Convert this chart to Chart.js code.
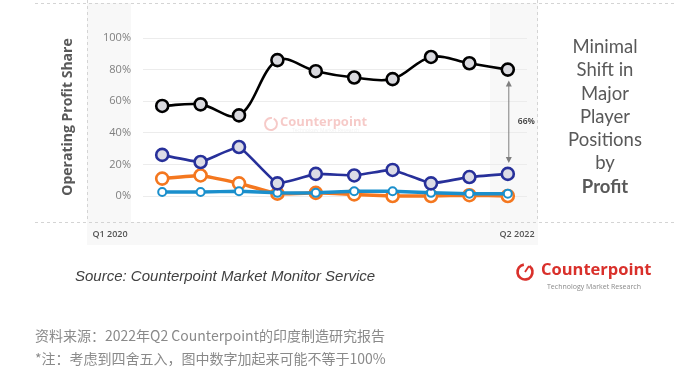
<!DOCTYPE html>
<html lang="zh">
<head>
<meta charset="utf-8">
<script src="https://cdn.jsdelivr.net/npm/chart.js"></script>
<style>
  html, body { margin: 0; padding: 0; background: #fff; }
  #wrap { position: relative; width: 693px; height: 378px; overflow: hidden; }
  #chart { position: absolute; left: 0; top: 0; }
  .txt { position: absolute; white-space: nowrap; }
  #side { left: 545px; top: 35px; width: 120px; text-align: center; font-family: Lato, "Open Sans", sans-serif; font-size: 18.5px; line-height: 23.3px; color: #595959; }
  #source { left: 75px; top: 267px; font-family: "Liberation Sans", Arial, sans-serif; font-style: italic; font-size: 15px; color: #404040; }
  .cn { left: 35px; font-family: "Noto Sans CJK SC", sans-serif; font-size: 14px; color: #8a8a8a; }
</style>
</head>
<body>
<div id="wrap">
  <canvas id="chart" width="693" height="378"></canvas>
  <div class="txt" id="side">Minimal<br>Shift in<br>Major<br>Player<br>Positions<br>by<br><b>Profit</b></div>
  <div class="txt" id="source">Source: Counterpoint Market Monitor Service</div>
  <div class="txt cn" style="top:325px">资料来源：2022年Q2 Counterpoint的印度制造研究报告</div>
  <div class="txt cn" style="top:348px">*注：考虑到四舍五入，图中数字加起来可能不等于100%</div>
</div>
<script>
// quarters Q1 2020 .. Q2 2022
const quarters = ['Q1 2020', 'Q2 2020', 'Q3 2020', 'Q4 2020', 'Q1 2021', 'Q2 2021', 'Q3 2021', 'Q4 2021', 'Q1 2022', 'Q2 2022'];
const edgeLabels = ['Q1 2020', 'Q2 2022'];
const yTicks = [0, 20, 40, 60, 80, 100];
const leader = [57, 58, 51, 86, 79, 75, 74, 88, 84, 80];
const second = [26, 21.5, 31, 8, 14, 13, 16.5, 8, 12, 14];
const cyanSeries = [2.5, 2.5, 3, 2, 2, 3, 3, 2, 1.5, 1.5];
const orangeSeries = [11, 13, 8, 1.5, 2, 1, 0, 0, 0.5, 0];
const gapLabel = '66%';

const extras = {
  id: 'extras',
  beforeDraw(chart) {
    const c = chart.ctx;
    c.save();
    // faint panel tint
    c.fillStyle = '#f8f8f8';
    c.fillRect(87, 3, 44, 219);
    c.fillRect(490, 3, 48, 219);
    c.fillRect(87, 222, 451, 23);
    // dashed frame
    c.strokeStyle = '#d4d4d4';
    c.lineWidth = 1;
    c.setLineDash([3, 3]);
    c.beginPath();
    c.moveTo(35, 3.5); c.lineTo(675, 3.5);
    c.moveTo(35, 222.5); c.lineTo(675, 222.5);
    c.moveTo(87.5, 0); c.lineTo(87.5, 222);
    c.moveTo(537.5, 0); c.lineTo(537.5, 222);
    c.stroke();
    c.setLineDash([]);
    // watermark
    c.globalAlpha = 0.28;
    c.strokeStyle = '#e0403a';
    c.lineWidth = 2;
    c.beginPath();
    c.arc(271, 124, 6, -Math.PI * 0.35, Math.PI * 1.55);
    c.stroke();
    c.fillStyle = '#e0403a';
    c.font = 'bold 13px "Open Sans", sans-serif';
    c.textBaseline = 'middle';
    c.fillText('Counterpoint', 280, 122);
    c.globalAlpha = 0.12;
    c.font = '5px "Open Sans", sans-serif';
    c.fillStyle = '#888';
    c.fillText('Technology Market Research', 292, 131);
    c.globalAlpha = 1;
    // y axis title
    c.translate(68, 117);
    c.rotate(-Math.PI / 2);
    c.fillStyle = '#595959';
    c.font = 'bold 14px "Open Sans", sans-serif';
    c.textAlign = 'center';
    c.textBaseline = 'middle';
    c.fillText('Operating Profit Share', 0, 0);
    c.restore();
    // edge quarter labels
    c.save();
    c.fillStyle = '#555';
    c.font = '600 9px "Open Sans", sans-serif';
    c.textAlign = 'center';
    c.textBaseline = 'middle';
    c.fillText(edgeLabels[0], 110, 234);
    c.fillText(edgeLabels[1], 517, 234);
    // logo
    c.strokeStyle = '#d9302b';
    c.lineWidth = 2.6;
    c.beginPath();
    c.arc(525, 272, 7.5, -Math.PI * 0.3, Math.PI * 1.45);
    c.stroke();
    c.beginPath();
    c.moveTo(525, 272); c.lineTo(529, 266);
    c.lineWidth = 1.8;
    c.stroke();
    c.fillStyle = '#d9302b';
    c.font = 'bold 16.5px "Open Sans", sans-serif';
    c.textAlign = 'left';
    c.fillText('Counterpoint', 541, 270);
    c.fillStyle = '#8a8a8a';
    c.font = '7px "Open Sans", sans-serif';
    c.fillText('Technology Market Research', 547, 287);
    c.restore();
  },
  afterDatasetsDraw(chart) {
    const c = chart.ctx;
    const x = chart.scales.x.getPixelForValue(quarters.length - 1) + 1;
    const yTop = chart.scales.y.getPixelForValue(leader[leader.length - 1]) + 11;
    const yBot = chart.scales.y.getPixelForValue(second[second.length - 1]) - 11;
    c.save();
    c.strokeStyle = '#7f7f7f';
    c.fillStyle = '#7f7f7f';
    c.lineWidth = 1;
    c.beginPath();
    c.moveTo(x, yTop + 4); c.lineTo(x, yBot - 4);
    c.stroke();
    c.beginPath();
    c.moveTo(x, yTop); c.lineTo(x - 3, yTop + 6); c.lineTo(x + 3, yTop + 6); c.closePath();
    c.moveTo(x, yBot); c.lineTo(x - 3, yBot - 6); c.lineTo(x + 3, yBot - 6); c.closePath();
    c.fill();
    c.fillStyle = '#333';
    c.font = '600 8.5px "Open Sans", sans-serif';
    c.textBaseline = 'middle';
    c.fillText(gapLabel, x + 9, (yTop + yBot) / 2);
    c.restore();
  }
};

new Chart(document.getElementById('chart'), {
  type: 'line',
  data: {
    labels: quarters,
    datasets: [
      { data: leader, borderColor: '#000', backgroundColor: '#d9d9de', borderWidth: 2.6, tension: 0.35,
        pointRadius: 6, pointBorderWidth: 2.6, pointBackgroundColor: '#d9d9de', pointBorderColor: '#000' },
      { data: second, borderColor: '#27309a', backgroundColor: '#dcdce6', borderWidth: 2.6, tension: 0.1,
        pointRadius: 6, pointBorderWidth: 2.6, pointBackgroundColor: '#dcdce6', pointBorderColor: '#27309a' },
      { data: cyanSeries, borderColor: '#1a8fcc', backgroundColor: '#fff', borderWidth: 3.5, tension: 0.1,
        pointRadius: 4, pointBorderWidth: 2, pointBackgroundColor: '#fff', pointBorderColor: '#1a8fcc' },
      { data: orangeSeries, borderColor: '#f4771f', backgroundColor: '#fff', borderWidth: 3.5, tension: 0.1,
        pointRadius: 6, pointBorderWidth: 2.6, pointBackgroundColor: '#fff', pointBorderColor: '#f4771f' }
    ]
  },
  options: {
    responsive: false,
    animation: false,
    clip: false,
    layout: { padding: { left: 0, top: 38, right: 166, bottom: 182 } },
    plugins: { legend: { display: false }, tooltip: { enabled: false } },
    scales: {
      x: { display: false, offset: true },
      y: {
        min: 0, max: 100,
        afterFit(scale) { scale.width = 143; },
        afterBuildTicks(scale) { scale.ticks = yTicks.map(v => ({ value: v })); },
        border: { display: false },
        grid: { color: '#ececec', drawTicks: false },
        ticks: { padding: 12, color: '#7f7f7f', font: { family: 'Open Sans', size: 11 }, callback: v => v + '%' }
      }
    }
  },
  plugins: [extras]
});
</script>
</body>
</html>
